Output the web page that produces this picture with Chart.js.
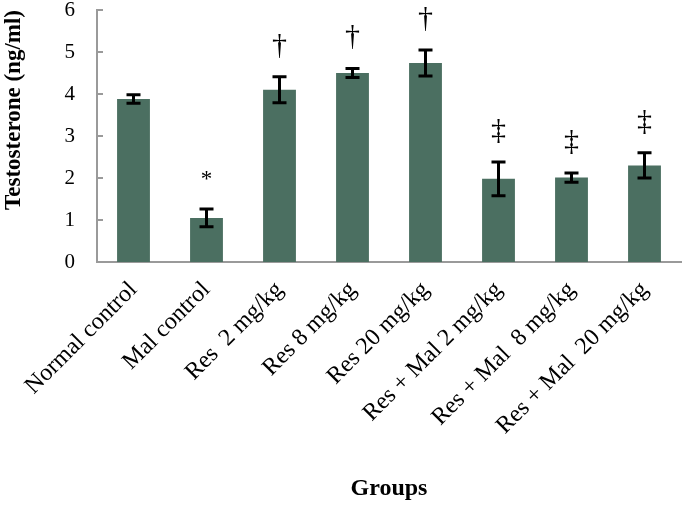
<!DOCTYPE html>
<html>
<head>
<meta charset="utf-8">
<script src="https://cdn.jsdelivr.net/npm/chart.js@4/dist/chart.umd.min.js"></script>
<style>
  html, body { margin: 0; padding: 0; background: #fff; }
  #wrap { width: 682px; height: 505px; }
</style>
</head>
<body>
<div id="wrap"><canvas id="graph-testo"></canvas></div>
<script>
'use strict';

// Données
const groupes = ['Normal control', 'Mal control', 'Res  2 mg/kg', 'Res 8 mg/kg', 'Res 20 mg/kg',
    'Res + Mal 2 mg/kg', 'Res + Mal  8 mg/kg', 'Res + Mal  20 mg/kg'];
const moyennes = [3.88, 1.05, 4.10, 4.50, 4.74, 1.98, 2.01, 2.30];
const erreurs = [0.10, 0.21, 0.31, 0.11, 0.31, 0.40, 0.11, 0.30];
const marques = ['', '*', '†', '†', '†', '‡', '‡', '‡'];
const yTicks = [0, 1, 2, 3, 4, 5, 6];

const serif = '"Liberation Serif", "Times New Roman", serif';
const axisColor = '#9a9a9a';

// Barres d'erreur, symboles et petites graduations
const errorBarsPlugin = {
    id: 'errorBars',
    afterDatasetsDraw(chart) {
        const ctx = chart.ctx;
        const x = chart.scales.x;
        const y = chart.scales.y;
        ctx.save();
        // graduations intérieures de l'axe y
        ctx.strokeStyle = axisColor;
        ctx.lineWidth = 2;
        yTicks.forEach(t => {
            const py = y.getPixelForValue(t);
            ctx.beginPath();
            ctx.moveTo(chart.chartArea.left, py);
            ctx.lineTo(chart.chartArea.left + 6, py);
            ctx.stroke();
        });
        // barres d'erreur
        ctx.strokeStyle = '#000';
        ctx.lineWidth = 3;
        moyennes.forEach((m, i) => {
            const px = x.getPixelForValue(i);
            const top = y.getPixelForValue(m + erreurs[i]);
            const bot = y.getPixelForValue(m - erreurs[i]);
            ctx.beginPath();
            ctx.moveTo(px, top); ctx.lineTo(px, bot);
            ctx.moveTo(px - 7, top); ctx.lineTo(px + 7, top);
            ctx.moveTo(px - 7, bot); ctx.lineTo(px + 7, bot);
            ctx.stroke();
        });
        // symboles de significativité
        ctx.fillStyle = '#000';
        ctx.textAlign = 'center';
        ctx.textBaseline = 'middle';
        marques.forEach((s, i) => {
            if (!s) return;
            const px = x.getPixelForValue(i);
            const top = y.getPixelForValue(moyennes[i] + erreurs[i]);
            ctx.font = (s === '*' ? '23px ' : '30px ') + serif;
            ctx.fillText(s, px, top - (s === '*' ? 29 : 31));
        });
        ctx.restore();
    }
};

const ctx = document.getElementById('graph-testo').getContext('2d');
new Chart(ctx, {
    type: 'bar',
    data: {
        labels: groupes,
        datasets: [{
            label: 'Testosterone',
            data: moyennes,
            backgroundColor: '#4b6f61',
            barPercentage: 0.45,
            categoryPercentage: 1.0
        }]
    },
    options: {
        responsive: true,
        maintainAspectRatio: false,
        animation: false,
        layout: { padding: { top: 10, right: 1, left: 0, bottom: 0 } },
        plugins: {
            legend: { display: false },
            tooltip: { enabled: false }
        },
        scales: {
            x: {
                grid: { display: false, drawTicks: false },
                border: { color: axisColor, width: 2 },
                ticks: {
                    color: '#000',
                    font: { family: serif, size: 24 },
                    minRotation: 45,
                    maxRotation: 45,
                    autoSkip: false,
                    padding: 14
                },
                title: {
                    display: true,
                    text: 'Groups',
                    color: '#000',
                    font: { family: serif, size: 24, weight: 'bold' },
                    padding: { top: 0, bottom: 2 }
                },
                afterFit(scale) {
                    scale.height = 243;
                    scale.paddingLeft = 0;
                    scale.paddingRight = 0;
                }
            },
            y: {
                min: 0,
                max: 6,
                afterBuildTicks(scale) { scale.ticks = yTicks.map(v => ({ value: v })); },
                grid: { display: false, drawTicks: false },
                border: { color: axisColor, width: 2 },
                ticks: {
                    color: '#000',
                    font: { family: serif, size: 21 },
                    padding: 22
                },
                title: {
                    display: true,
                    text: 'Testosterone (ng/ml)',
                    color: '#000',
                    align: 'end',
                    font: { family: serif, size: 23, weight: 'bold' },
                    padding: { top: 0, bottom: 0 }
                },
                afterFit(scale) {
                    scale.width = 97;
                    scale.paddingTop = 0;
                    scale.paddingBottom = 0;
                }
            }
        }
    },
    plugins: [errorBarsPlugin]
});
</script>
</body>
</html>
